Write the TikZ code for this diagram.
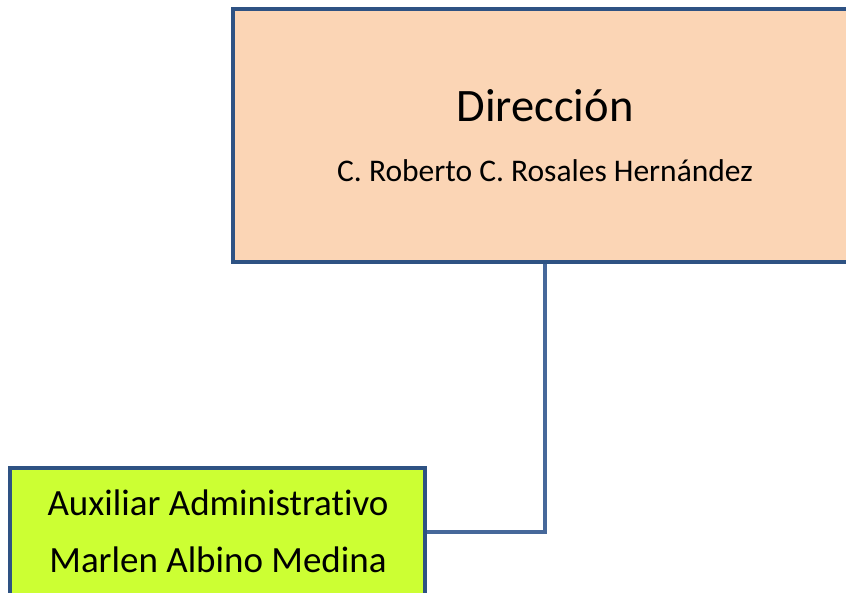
\documentclass[tikz,border=0pt]{standalone}
\usepackage{fontspec}
\setmainfont{Carlito}[RawFeature=-liga]
\usetikzlibrary{positioning}
\definecolor{borde}{HTML}{2E5283}
\definecolor{linea}{HTML}{46689A}
\definecolor{durazno}{HTML}{FBD5B5}
\definecolor{limon}{HTML}{CCFF33}
\tikzset{
  caja/.style={draw=borde, line width=3.5pt, inner sep=0pt},
  conector/.style={draw=linea, line width=4pt}
}
\begin{document}
\begin{tikzpicture}[x=1pt,y=1pt]
        \useasboundingbox (0,0) rectangle (846,592);
        % cajas
        \node[caja, fill=durazno, minimum width=624pt, minimum height=253pt] (dir) at (545,456.5) {};
        \node[caja, fill=limon, minimum width=415pt, minimum height=128pt] (aux) at (217.5,60) {};
        % textos
        \node[anchor=base, inner sep=0pt] (dirT) at (545,470) {\fontsize{46.5}{50}\selectfont Dirección};
        \node[anchor=base, inner sep=0pt] (dirN) at (545,410) {\fontsize{31.5}{36}\selectfont C. Roberto C. Rosales Hernández};
        \node[anchor=base, inner sep=0pt] (auxT) at (218,77) {\fontsize{37}{42}\selectfont Auxiliar Administrativo};
        \node[anchor=base, inner sep=0pt] (auxN) at (218,20) {\fontsize{37}{42}\selectfont Marlen Albino Medina};
        % conector
        \draw[conector] (dir.south) |- (aux.east);
    \end{tikzpicture}
\end{document}
